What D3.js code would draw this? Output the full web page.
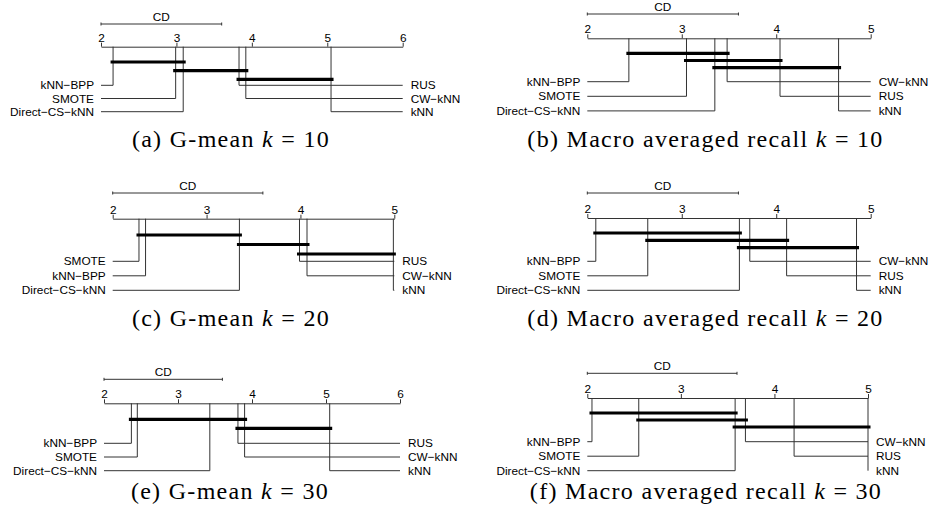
<!DOCTYPE html>
<html lang="en">
<head>
<meta charset="utf-8">
<title>CD diagrams</title>
<script src="https://d3js.org/d3.v7.min.js"></script>
<style>
  body { margin: 0; background: #fff; }
  .lbl, .tick text { font-family: "Liberation Sans", Arial, sans-serif; font-size: 11.8px; fill: #000; }
  .cap { font-family: "Liberation Serif", "Times New Roman", serif; font-size: 24px; letter-spacing: 1.3px; fill: #000; }
</style>
</head>
<body>
<svg id="chart" width="937" height="516"></svg>
<script>
// methods (order used by every rank array below)
const methods = ["kNN−BPP", "SMOTE", "Direct−CS−kNN", "RUS", "CW−kNN", "kNN"];
const cd = 1.6;

// average ranks
const ranksGmean10  = [2.16, 2.99, 3.09, 3.83, 3.92, 5.05];
const ranksRecall10 = [2.44, 3.05, 3.35, 4.04, 3.48, 4.66];
const ranksGmean20  = [2.35, 2.28, 3.35, 3.99, 4.07, 4.99];
const ranksRecall20 = [2.09, 2.64, 3.61, 4.11, 3.72, 4.85];
const ranksGmean30  = [2.37, 2.45, 3.43, 3.81, 3.90, 5.05];
const ranksRecall30 = [2.05, 2.55, 3.58, 4.21, 3.69, 5.00];

// groups not significantly different (first method, last method)
const cliquesGmean10  = [["kNN−BPP", "Direct−CS−kNN"], ["SMOTE", "CW−kNN"], ["RUS", "kNN"]];
const cliquesRecall10 = [["kNN−BPP", "CW−kNN"], ["SMOTE", "RUS"], ["Direct−CS−kNN", "kNN"]];
const cliquesGmean20  = [["SMOTE", "Direct−CS−kNN"], ["Direct−CS−kNN", "CW−kNN"], ["RUS", "kNN"]];
const cliquesRecall20 = [["kNN−BPP", "Direct−CS−kNN"], ["SMOTE", "RUS"], ["Direct−CS−kNN", "kNN"]];
const cliquesGmean30  = [["kNN−BPP", "CW−kNN"], ["RUS", "kNN"]];
const cliquesRecall30 = [["kNN−BPP", "Direct−CS−kNN"], ["SMOTE", "CW−kNN"], ["Direct−CS−kNN", "kNN"]];

const ticksTo6 = [2, 3, 4, 5, 6];
const ticksTo5 = [2, 3, 4, 5];

const panels = [
  {tag: "a", metric: "G-mean", k: 10, ranks: ranksGmean10, cliques: cliquesGmean10, ticks: ticksTo6},
  {tag: "b", metric: "Macro averaged recall", k: 10, ranks: ranksRecall10, cliques: cliquesRecall10, ticks: ticksTo5},
  {tag: "c", metric: "G-mean", k: 20, ranks: ranksGmean20, cliques: cliquesGmean20, ticks: ticksTo5},
  {tag: "d", metric: "Macro averaged recall", k: 20, ranks: ranksRecall20, cliques: cliquesRecall20, ticks: ticksTo5},
  {tag: "e", metric: "G-mean", k: 30, ranks: ranksGmean30, cliques: cliquesGmean30, ticks: ticksTo6},
  {tag: "f", metric: "Macro averaged recall", k: 30, ranks: ranksRecall30, cliques: cliquesRecall30, ticks: ticksTo5}
];

// where each sub figure sits on the page
const layout = [
  {x0: 101,   x1: 402.7, axisY: 46.7,  cdY: 24,    barY: 62,    barDy: 8.7, rowY: 85.3,  rowDy: 13.2, capX: 231,   capY: 147},
  {x0: 587.3, x1: 870.7, axisY: 38.3,  cdY: 14,    barY: 53.3,  barDy: 7.2, rowY: 81.7,  rowDy: 14.6, capX: 705.5, capY: 147},
  {x0: 112.7, x1: 394.3, axisY: 218.7, cdY: 193,   barY: 235,   barDy: 9.5, rowY: 261.3, rowDy: 14.5, capX: 231,   capY: 326},
  {x0: 587.3, x1: 870.7, axisY: 218,   cdY: 193,   barY: 233,   barDy: 7.3, rowY: 261.3, rowDy: 14.5, capX: 705.5, capY: 326},
  {x0: 104,   x1: 400,   axisY: 403.3, cdY: 379.3, barY: 419.3, barDy: 9,   rowY: 443.3, rowDy: 13.7, capX: 230,   capY: 499},
  {x0: 587.3, x1: 868,   axisY: 398,   cdY: 373.3, barY: 413,   barDy: 7,   rowY: 441.7, rowDy: 14.5, capX: 706,   capY: 499}
];

const svg = d3.select("#chart");
const lineColor = "#333";

panels.forEach((p, i) => {
  const L = layout[i];
  const g = svg.append("g");
  const x = d3.scaleLinear()
      .domain(d3.extent(p.ticks))
      .range([L.x0, L.x1]);

  // axis with labels on top
  g.append("g")
      .attr("transform", "translate(0," + L.axisY + ")")
      .call(d3.axisTop(x).tickValues(p.ticks).tickFormat(d3.format("d"))
              .tickSize(4).tickSizeOuter(0).tickPadding(1))
      .call(a => a.selectAll("path, line").attr("stroke", lineColor))
      .call(a => a.selectAll("text").attr("class", "lbl"))
      .attr("font-family", null).attr("font-size", null);

  // CD bar
  const cdG = g.append("g").attr("stroke", lineColor);
  const cdEnd = x(x.domain()[0] + cd);
  cdG.append("line").attr("x1", L.x0).attr("x2", cdEnd).attr("y1", L.cdY).attr("y2", L.cdY);
  [L.x0, cdEnd].forEach(cx => {
    cdG.append("line").attr("x1", cx).attr("x2", cx).attr("y1", L.cdY - 1.5).attr("y2", L.cdY + 1.5);
  });
  g.append("text").attr("class", "lbl")
      .attr("x", (L.x0 + cdEnd) / 2).attr("y", L.cdY - 3)
      .attr("text-anchor", "middle").text("CD");

  // sort methods by rank, lower half on the left
  const items = methods.map((m, j) => ({name: m, rank: p.ranks[j]}))
      .sort((a, b) => a.rank - b.rank);
  const half = items.length / 2;
  items.forEach((d, j) => {
    d.left = j < half;
    d.row = d.left ? j : j - half;
  });

  const conn = g.append("g").attr("fill", "none").attr("stroke", lineColor).attr("stroke-width", 1);
  conn.selectAll("path").data(items).join("path")
      .attr("d", d => {
        const y = L.rowY + d.row * L.rowDy;
        return "M" + x(d.rank) + "," + L.axisY + "V" + y + "H" + (d.left ? L.x0 : L.x1);
      });

  g.selectAll("text.name").data(items).join("text")
      .attr("class", "lbl name")
      .attr("x", d => d.left ? L.x0 - 7 : L.x1 + 8)
      .attr("y", d => L.rowY + d.row * L.rowDy + 4)
      .attr("text-anchor", d => d.left ? "end" : "start")
      .text(d => d.name);

  // cliques
  const rankOf = name => p.ranks[methods.indexOf(name)];
  g.selectAll("line.clique").data(p.cliques).join("line")
      .attr("class", "clique")
      .attr("x1", d => x(rankOf(d[0])) - 2.5)
      .attr("x2", d => x(rankOf(d[1])) + 2.5)
      .attr("y1", (d, j) => L.barY + j * L.barDy)
      .attr("y2", (d, j) => L.barY + j * L.barDy)
      .attr("stroke", "#000").attr("stroke-width", 3.2);

  // caption
  const cap = g.append("text").attr("class", "cap")
      .attr("x", L.capX).attr("y", L.capY).attr("text-anchor", "middle");
  cap.append("tspan").text("(" + p.tag + ") " + p.metric + " ");
  cap.append("tspan").attr("font-style", "italic").text("k");
  cap.append("tspan").text(" = " + p.k);
});
</script>
</body>
</html>
